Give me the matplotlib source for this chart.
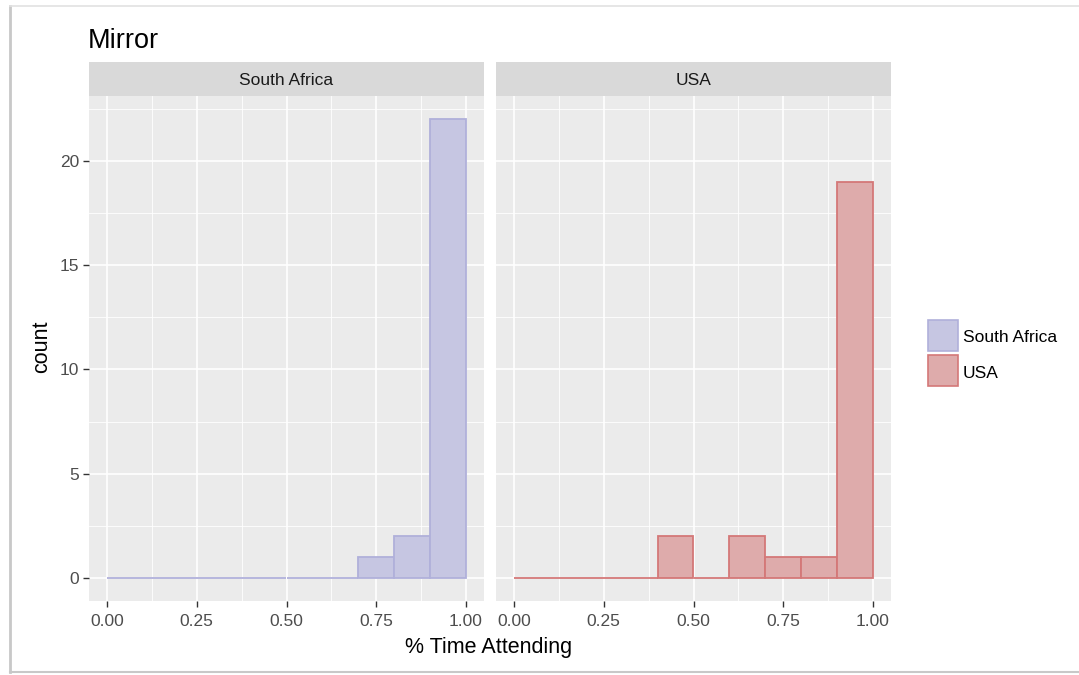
import numpy as np
import matplotlib
matplotlib.use("Agg")
import matplotlib.pyplot as plt
from matplotlib.patches import Rectangle
from matplotlib.lines import Line2D

plt.rcParams["font.family"] = ["Liberation Sans", "DejaVu Sans"]

# ── Data (histogram, binwidth 0.1) ────────────────────────────────────
bin_left = [0.0, 0.1, 0.2, 0.3, 0.4, 0.5, 0.6, 0.7, 0.8, 0.9]
sa_counts = [0, 0, 0, 0, 0, 0, 0, 1, 2, 22]
usa_counts = [0, 0, 0, 0, 2, 0, 2, 1, 1, 19]
panels = ["South Africa", "USA"]
x_ticks = [0.0, 0.25, 0.5, 0.75, 1.0]
x_ticklabels = ["0.00", "0.25", "0.50", "0.75", "1.00"]
y_ticks = [0, 5, 10, 15, 20]

fills = {"South Africa": "#C6C6E2", "USA": "#DEABAB"}
edges = {"South Africa": "#B0B0DA", "USA": "#D47878"}

W, H = 1079, 675
fig = plt.figure(figsize=(W / 100, H / 100), dpi=100)
fig.patch.set_facecolor("white")

def fx(px): return px / W
def fy(py): return 1 - py / H

# screenshot frame
fig.add_artist(Line2D([fx(10), fx(10)], [fy(6), fy(672)], color="#C8C8C8", lw=2.0))
fig.add_artist(Line2D([fx(10), 1], [fy(6), fy(6)], color="#E2E2E2", lw=1.2))
fig.add_artist(Line2D([fx(10), 1], [fy(672), fy(672)], color="#C8C8C8", lw=1.5))

panel_x = [89, 496]
pw = 395
top, bot = 96, 601
grey = "#4D4D4D"
tick_fs = 12.5

for i, (name, counts) in enumerate(zip(panels, [sa_counts, usa_counts])):
    ax = fig.add_axes([fx(panel_x[i]), fy(bot), fx(pw), (bot - top) / H])
    ax.set_facecolor("#EBEBEB")
    ax.set_xlim(-0.05, 1.05)
    ax.set_ylim(-1.1, 23.1)
    for v in [0.125, 0.375, 0.625, 0.875]:
        ax.axvline(v, color="white", lw=0.6, zorder=0)
    for v in [2.5, 7.5, 12.5, 17.5, 22.5]:
        ax.axhline(v, color="white", lw=0.6, zorder=0)
    for v in x_ticks:
        ax.axvline(v, color="white", lw=1.2, zorder=0)
    for v in y_ticks:
        ax.axhline(v, color="white", lw=1.2, zorder=0)
    ax.bar(bin_left, counts, width=0.1, align="edge", color=fills[name],
           edgecolor=edges[name], linewidth=1.3, zorder=2)
    ax.set_xticks(x_ticks)
    ax.set_xticklabels(x_ticklabels)
    ax.set_yticks(y_ticks)
    ax.tick_params(axis="both", colors="#333333", labelcolor=grey, labelsize=tick_fs,
                   length=4, width=1.0, pad=3)
    ax.tick_params(axis="x", pad=5)
    if i == 1:
        ax.tick_params(axis="y", left=False, labelleft=False)
    for sp in ax.spines.values():
        sp.set_visible(False)

    # facet strip
    sx = fig.add_axes([fx(panel_x[i]), fy(top), fx(pw), (top - 62) / H])
    sx.set_facecolor("#D9D9D9")
    sx.set_xticks([]); sx.set_yticks([])
    for sp in sx.spines.values():
        sp.set_visible(False)
    sx.text(0.5, 0.45, name, ha="center", va="center", fontsize=12.5, color="#1A1A1A")

fig.text(fx(88), fy(41), "Mirror", fontsize=19.5, color="black", ha="left", va="center")
fig.text(fx(489), fy(647), "% Time Attending", fontsize=15.5, color="black",
         ha="center", va="center")
fig.text(fx(42), fy(347), "count", fontsize=15.5, color="black", rotation=90,
         ha="center", va="center")

# legend
for j, name in enumerate(panels):
    y0 = 320 + j * 35
    fig.add_artist(Rectangle((fx(928), fy(y0 + 31)), fx(30), 31 / H,
                             facecolor=fills[name], edgecolor=edges[name], lw=1.2))
    fig.text(fx(963), fy(y0 + 18), name, fontsize=12.5, color="black",
             ha="left", va="center")

fig.savefig("out.png", dpi=100, facecolor="white")
